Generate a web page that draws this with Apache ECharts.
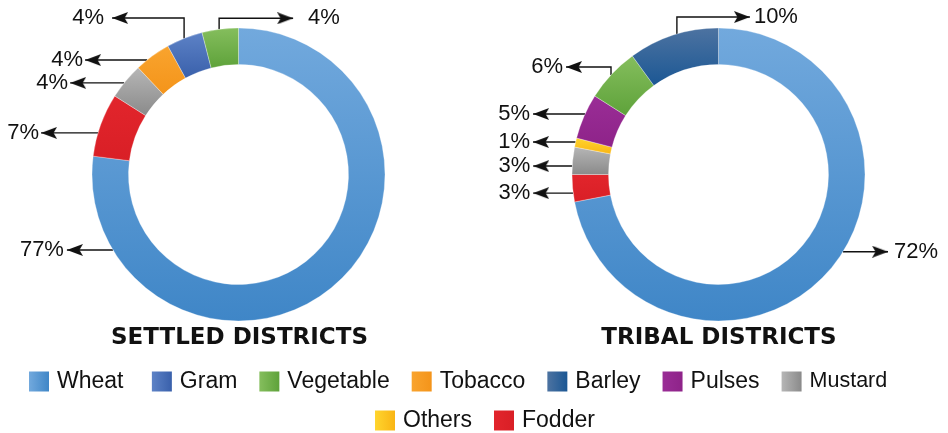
<!DOCTYPE html>
<html>
<head>
<meta charset="utf-8">
<script src="https://cdn.jsdelivr.net/npm/echarts@6/dist/echarts.min.js"></script>
<style>
  html, body { margin: 0; padding: 0; background: #fff; }
  #chart-container { width: 948px; height: 433px; }
</style>
</head>
<body>
<div id="chart-container"></div>
<script>
var settledNames = ["Wheat", "Fodder", "Mustard", "Tobacco", "Gram", "Vegetable"];
var settledValues = [77, 7, 4, 4, 4, 4];

var tribalNames = ["Wheat", "Fodder", "Mustard", "Others", "Pulses", "Vegetable", "Barley"];
var tribalValues = [72, 3, 3, 1, 5, 6, 10];

var legendRow1 = ["Wheat", "Gram", "Vegetable", "Tobacco", "Barley", "Pulses", "Mustard"];
var legendRow2 = ["Others", "Fodder"];

// [light, dark] per crop
var cropColors = {
  Wheat: ["#72a9dd", "#3f86c7"],
  Gram: ["#5d82c6", "#3960ab"],
  Vegetable: ["#85be5d", "#5ea23a"],
  Tobacco: ["#f9a42e", "#f4941a"],
  Barley: ["#4d73a1", "#1b5794"],
  Pulses: ["#9a2d96", "#8e2389"],
  Mustard: ["#b6b6b6", "#8a8a8a"],
  Others: ["#ffd52e", "#f9b514"],
  Fodder: ["#e2252c", "#d91f26"]
};

var R_IN = 110, R_OUT = 146.5;
var CY = 174.5;
var CX_LEFT = 238.5, CX_RIGHT = 718.5;

// where each label line leaves the ring (deg clockwise from top),
// how far it climbs, which way it runs and how long, and text gap
var settledLabelPos = [
  { ang: 239, rise: 0, dir: -1, len: 46, gap: 3 },
  { ang: 286.5, rise: 0, dir: -1, len: 57, gap: 2 },
  { ang: 308.7, rise: 0, dir: -1, len: 54, gap: 2 },
  { ang: 321.4, rise: 0, dir: -1, len: 62, gap: 2 },
  { ang: 338.2, rise: 20.5, dir: -1, len: 72, gap: 8 },
  { ang: 352.4, rise: 11, dir: 1, len: 74, gap: 15 }
];
var tribalLabelPos = [
  { ang: 121.8, rise: 0, dir: 1, len: 45, gap: 6 },
  { ang: 262.7, rise: 0, dir: -1, len: 40, gap: 3 },
  { ang: 273.3, rise: 0, dir: -1, len: 39, gap: 3 },
  { ang: 282.8, rise: 0, dir: -1, len: 42.6, gap: 3 },
  { ang: 294.4, rise: 0, dir: -1, len: 52, gap: 3 },
  { ang: 312.8, rise: 8, dir: -1, len: 45, gap: 3 },
  { ang: 343.5, rise: 17, dir: 1, len: 73, gap: 4 }
];

function arrowHead(dir) {
  var c = document.createElement("canvas");
  c.width = 16; c.height = 12;
  var ctx = c.getContext("2d");
  ctx.fillStyle = "#111";
  ctx.beginPath();
  if (dir < 0) {
    ctx.moveTo(0, 6); ctx.lineTo(16, 0); ctx.lineTo(12.5, 6); ctx.lineTo(16, 12);
  } else {
    ctx.moveTo(16, 6); ctx.lineTo(0, 0); ctx.lineTo(3.5, 6); ctx.lineTo(0, 12);
  }
  ctx.closePath();
  ctx.fill();
  return c;
}
var ARROW_W = 16;
var labelRich = {
  v: { fontSize: 22, fontFamily: "Liberation Sans", color: "#111", lineHeight: 24 },
  aL: { width: ARROW_W, height: 12, backgroundColor: { image: arrowHead(-1) } },
  aR: { width: ARROW_W, height: 12, backgroundColor: { image: arrowHead(1) } }
};
[2, 3, 4, 6, 8, 15].forEach(function (g) { labelRich["g" + g] = { width: g }; });

function vGrad(name) {
  var c = cropColors[name];
  return new echarts.graphic.LinearGradient(0, 0, 0, 1, [
    { offset: 0, color: c[0] }, { offset: 1, color: c[1] }
  ]);
}
function hGrad(name) {
  var c = cropColors[name];
  return new echarts.graphic.LinearGradient(0, 0, 1, 0, [
    { offset: 0, color: c[0] }, { offset: 1, color: c[1] }
  ]);
}

function buildData(names, values) {
  return names.map(function (n, i) {
    return { name: n, value: values[i], itemStyle: { color: vGrad(n) } };
  });
}

function makeFormatter(specs) {
  return function (p) {
    var s = specs[p.dataIndex];
    var txt = "{v|" + p.value + "%}";
    var gap = "{g" + s.gap + "| }";
    return s.dir < 0 ? txt + gap + "{aL| }" : "{aR| }" + gap + txt;
  };
}

function makeLayout(cx, specs) {
  return function (p) {
    var s = specs[p.dataIndex];
    var a = s.ang * Math.PI / 180;
    var x0 = cx + R_OUT * Math.sin(a);
    var y0 = CY - R_OUT * Math.cos(a);
    var y1 = y0 - s.rise;
    var tip = x0 + s.dir * s.len;
    var pts = [[x0, y0]];
    if (s.rise) pts.push([x0, y1]);
    pts.push([tip, y1]);
    return {
      x: s.dir < 0 ? tip + ARROW_W : tip - ARROW_W,
      y: y1,
      align: s.dir < 0 ? "right" : "left",
      verticalAlign: "middle",
      labelLinePoints: pts
    };
  };
}

function pieSeries(name, cx, names, values, specs) {
  return {
    name: name,
    type: "pie",
    center: [cx, CY],
    radius: [R_IN, R_OUT],
    startAngle: 90,
    clockwise: true,
    avoidLabelOverlap: false,
    silent: true,
    itemStyle: { borderColor: "rgba(255,255,255,0.6)", borderWidth: 0.5 },
    label: {
      show: true,
      position: "outside",
      formatter: makeFormatter(specs),
      rich: labelRich
    },
    labelLine: {
      show: true,
      length: 10,
      length2: 10,
      lineStyle: { color: "#111", width: 1.4 }
    },
    labelLayout: makeLayout(cx, specs),
    emphasis: { disabled: true },
    data: buildData(names, values)
  };
}

function legendItems(names) {
  return names.map(function (n) {
    return { name: n, icon: "rect", itemStyle: { color: hGrad(n), borderWidth: 0 } };
  });
}

var legendText = {
  fontSize: 23,
  fontFamily: "Liberation Sans",
  color: "#111",
  padding: [0, 0, 0, 3],
  rich: { s: { fontSize: 21.5, fontFamily: "Liberation Sans", color: "#111" } }
};
function legendFormatter(name) {
  if (name === "Wheat") return "Wheat ";
  if (name === "Mustard") return "{s|Mustard}";
  return name;
}

var titleStyle = { fontFamily: "DejaVu Sans", fontWeight: "bold", fontSize: 23, color: "#111" };

var chartDom = document.getElementById("chart-container");
var myChart = echarts.init(chartDom, null, { renderer: "canvas" });

var option = {
  animation: false,
  backgroundColor: "#fff",
  title: [
    { text: "SETTLED DISTRICTS", left: 239.5, top: 327, textAlign: "center", padding: 0, textStyle: titleStyle },
    { text: "TRIBAL DISTRICTS", left: 719, top: 327, textAlign: "center", padding: 0, textStyle: titleStyle }
  ],
  legend: [
    {
      left: 29, top: 370, padding: 0, itemWidth: 20, itemHeight: 20, itemGap: 22,
      selectedMode: false, formatter: legendFormatter, textStyle: legendText,
      data: legendItems(legendRow1)
    },
    {
      left: 375, top: 409, padding: 0, itemWidth: 20, itemHeight: 20, itemGap: 22,
      selectedMode: false, formatter: legendFormatter, textStyle: legendText,
      data: legendItems(legendRow2)
    }
  ],
  series: [
    pieSeries("Settled Districts", CX_LEFT, settledNames, settledValues, settledLabelPos),
    pieSeries("Tribal Districts", CX_RIGHT, tribalNames, tribalValues, tribalLabelPos)
  ]
};

myChart.setOption(option);
</script>
</body>
</html>
